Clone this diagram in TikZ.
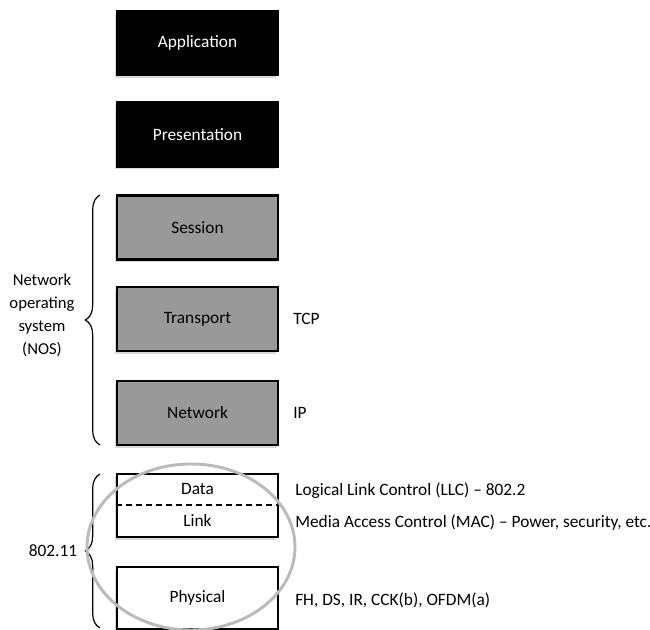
\documentclass[tikz,border=0pt]{standalone}
\usepackage{fontspec}
\setmainfont{Carlito}
\usetikzlibrary{decorations.pathreplacing,shadows}
\begin{document}
\begin{tikzpicture}[x=0.75pt,y=-0.75pt,
  layer/.style={draw=black, line width=1.9pt, minimum width=120.75pt,
    minimum height=48pt, inner sep=0pt, font=\fontsize{13}{15}\selectfont,
    drop shadow={shadow xshift=-1.5pt, shadow yshift=-2.2pt, fill=black!15, opacity=1}},
  toplayer/.style={layer, fill=black, text=white},
  noslayer/.style={layer, fill=black!40},
  lanlayer/.style={layer, fill=white},
  plain/.style={inner sep=0pt, font=\fontsize{13}{15}\selectfont},
  note/.style={plain, anchor=west},
  sidebrace/.style={decorate, decoration={brace, amplitude=11pt}, line width=0.9pt},
]
\useasboundingbox (0,0) rectangle (650,630);

% upper layers
\node[toplayer] (app)  at (197.5,43)    {Application};
\node[toplayer] (pres) at (197.5,134.5) {Presentation};

% layers handled by the network operating system
\node[noslayer] (sess)  at (197.5,227.5) {Session};
\node[noslayer] (trans) at (197.5,319)   {Transport};
\node[noslayer] (net)   at (197.5,413)   {Network};

% 802.11 layers
\node[lanlayer, minimum height=47.25pt] (dl) at (197.5,505.5) {};
\draw[dash pattern=on 4.5pt off 3pt, line width=1.5pt] (dl.west) -- (dl.east);
\node[plain] (data) at (197.5,489) {Data};
\node[plain] (link) at (197.5,520) {Link};
\node[lanlayer, minimum height=46.5pt] (phy) at (197.5,598) {Physical};

% braces and their labels
\coordinate (nosA) at (100,445);
\coordinate (nosB) at (100,195);
\draw[sidebrace] (nosA) -- (nosB);
\node[plain, align=center, font=\fontsize{12.5}{17.25}\selectfont] (nos) at (42,315)
  {Network\\operating\\system\\(NOS)};

\coordinate (wlA) at (100,628);
\coordinate (wlB) at (100,474);
\draw[sidebrace] (wlA) -- (wlB);
\node[plain] (std) at (53,551) {802.11};

% protocol notes
\node[note] (tcp) at (293,319) {TCP};
\node[note] (ip)  at (293,413) {IP};
\node[note] (llc) at (295,491) {Logical Link Control (LLC) – 802.2};
\node[note] (mac) at (295,523) {Media Access Control (MAC) – Power, security, etc.};
\node[note] (phn) at (295,600) {FH, DS, IR, CCK(b), OFDM(a)};

% ring round the 802.11 layers
\draw[black!27, line width=2.2pt] (191,547) ellipse [x radius=78pt, y radius=62.25pt];
\end{tikzpicture}
\end{document}
